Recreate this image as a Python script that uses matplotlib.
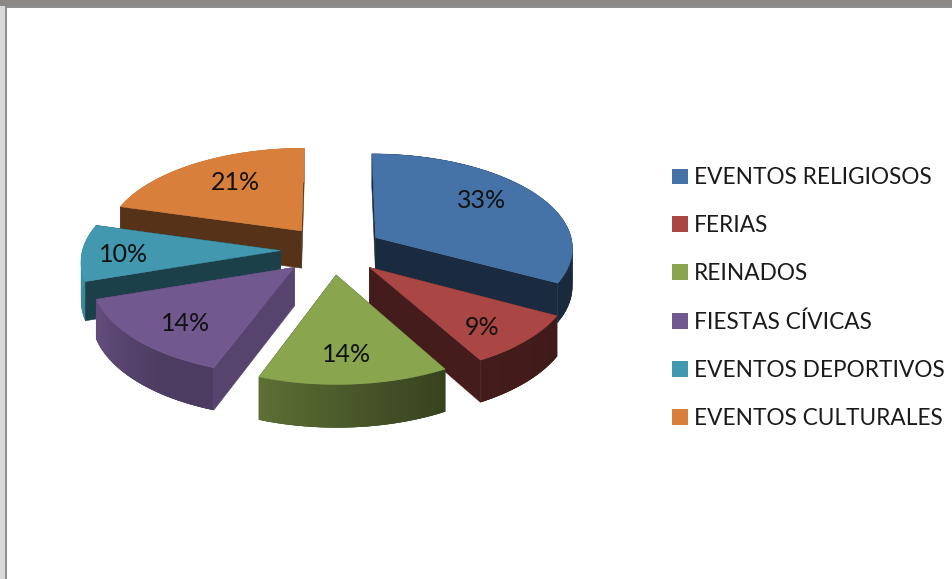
import numpy as np
import matplotlib
matplotlib.use("Agg")
import matplotlib.pyplot as plt
from matplotlib.patches import Polygon, Patch, Rectangle

plt.rcParams['font.family'] = ['Lato', 'DejaVu Sans']

categories = ["EVENTOS RELIGIOSOS", "FERIAS", "REINADOS", "FIESTAS CÍVICAS",
              "EVENTOS DEPORTIVOS", "EVENTOS CULTURALES"]
# they round to the printed percentages
shares = [32.9, 9.0, 13.8, 14.2, 9.6, 20.6]
colors = ["#4572A7", "#AA4643", "#89A54E", "#71588F", "#4198AF", "#D8803B"]

# pie geometry in screen pixels, plane coordinates are in pie radii
cx, cy = 332, 250
rx, ry = 198, 94
depth = 38
persp = 0.095
explode = 0.26


def project(u, v, drop=0.0):
    s = 1 / (1 + persp * v)
    return cx + rx * u * s, cy - ry * v * s + drop * s


def shade(color, f):
    return tuple(c * f for c in matplotlib.colors.to_rgb(color))


def wall_brightness(theta):
    # side walls get lighter going clockwise round the front of the pie
    return np.interp(theta, [100, 150, 170, 200, 215, 250, 270, 290],
                     [0.36, 0.40, 0.50, 0.68, 0.68, 0.88, 0.95, 0.95])


fig = plt.figure(figsize=(9.53, 5.79), dpi=100, facecolor="#d9d9d9")
ax = fig.add_axes([0, 0, 1, 1])
ax.set_xlim(0, 953)
ax.set_ylim(579, 0)
ax.axis("off")

# window frame around the chart
ax.add_patch(Rectangle((0, 0), 953, 6, color="#8b8886", lw=0))
ax.add_patch(Rectangle((5, 6), 948, 573, color="#8f8f8f", lw=0))
ax.add_patch(Rectangle((7, 8), 946, 571, color="white", lw=0))

fractions = np.array(shares) / sum(shares)
edges = np.concatenate([[0], np.cumsum(fractions)]) * 360
cut_faces = [0.38, 0.40, 0.40, 0.77, 0.42, 0.40]
order = [5, 0, 4, 3, 1, 2]

for rank, i in enumerate(order):
    start, stop = edges[i], edges[i + 1]
    mid = np.radians((start + stop) / 2)
    ou, ov = explode * np.sin(mid), explode * np.cos(mid)
    thetas = np.linspace(start, stop, 60)
    us = ou + np.sin(np.radians(thetas))
    vs = ov + np.cos(np.radians(thetas))
    face_col = shade(colors[i], cut_faces[i])
    z = rank * 10

    def cut_face(end):
        pts = [project(ou, ov), project(us[end], vs[end]),
               project(us[end], vs[end], depth), project(ou, ov, depth)]
        return Polygon(pts, closed=True, fc=face_col, ec=face_col, lw=0.4)

    # faces turned away from the viewer go under the curved wall, the others over it
    start_front = np.sin(np.radians(start)) < 0
    stop_front = np.sin(np.radians(stop)) > 1e-6
    for end, front in ((0, start_front), (-1, stop_front)):
        patch = cut_face(end)
        patch.set_zorder(z + (3 if front else 1))
        ax.add_patch(patch)

    base = [project(u, v) for u, v in zip(us, vs)] + \
           [project(u, v, depth) for u, v in zip(us[::-1], vs[::-1])]
    ax.add_patch(Polygon(base, closed=True, lw=0, zorder=z + 2,
                         fc=shade(colors[i], wall_brightness((start + stop) / 2))))
    for k in range(len(thetas) - 2):
        # each strip overlaps the next so no seams show
        pts = [project(us[k], vs[k]), project(us[k + 2], vs[k + 2]),
               project(us[k + 2], vs[k + 2], depth), project(us[k], vs[k], depth)]
        ax.add_patch(Polygon(pts, closed=True, lw=0, zorder=z + 2,
                             fc=shade(colors[i], wall_brightness(thetas[k]))))
    top = [project(ou, ov)] + [project(u, v) for u, v in zip(us, vs)]
    ax.add_patch(Polygon(top, closed=True, fc=colors[i], ec=colors[i], lw=0.3, zorder=z + 4))

# percentage labels, radial position along each slice's middle plus a small nudge
label_radius = [0.62, 0.62, 0.70, 0.66, 0.80, 0.62]
label_nudge = [(6, -9), (18, 16), (-2, 6), (-7, 9), (2, 2), (2, -6)]
for i, share in enumerate(shares):
    mid = np.radians((edges[i] + edges[i + 1]) / 2)
    r = label_radius[i]
    x, y = project((explode + r) * np.sin(mid), (explode + r) * np.cos(mid))
    ax.text(x + label_nudge[i][0], y + label_nudge[i][1], f"{share:.0f}%", fontsize=18,
            color="#111111", ha="center", va="center", zorder=100)

handles = [Patch(fc=c, ec="none") for c in colors]
ax.legend(handles, categories, loc="upper left", bbox_to_anchor=(652 / 953, 1 - 147 / 579),
          frameon=False, fontsize=16.3, labelspacing=1.19, handlelength=0.7, handleheight=0.7,
          handletextpad=0.27, borderpad=0.4, labelcolor="#1a1a1a")

fig.savefig("out.png", dpi=100, facecolor=fig.get_facecolor())
